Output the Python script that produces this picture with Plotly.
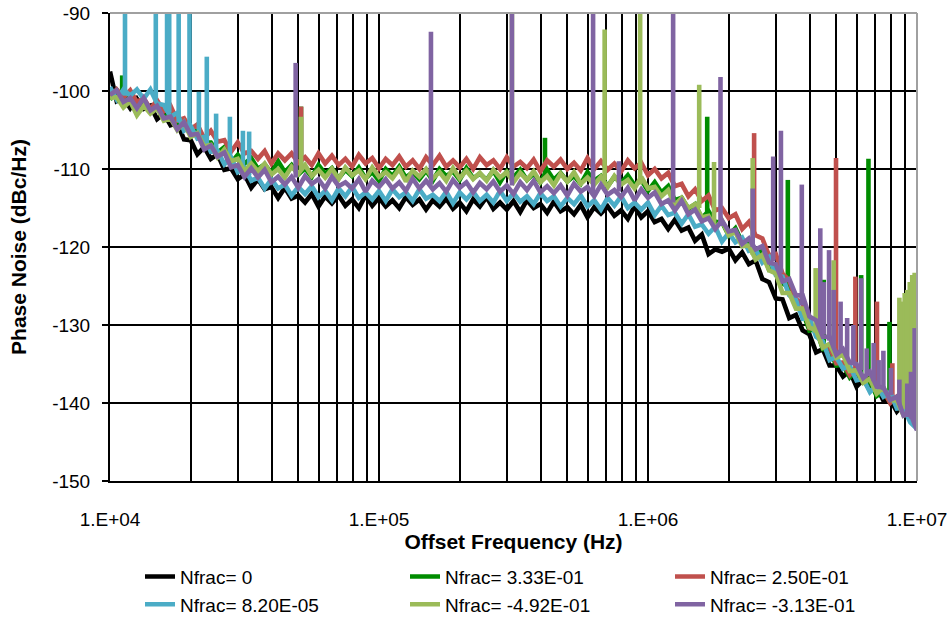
import plotly.graph_objects as go

# ---------------- data ----------------
freq = [1.000e4, 1.059e4, 1.122e4, 1.189e4, 1.259e4, 1.334e4, 1.413e4, 1.496e4, 1.585e4, 1.679e4,
        1.778e4, 1.884e4, 1.995e4, 2.113e4, 2.239e4, 2.371e4, 2.512e4, 2.661e4, 2.818e4, 2.985e4,
        3.162e4, 3.350e4, 3.548e4, 3.758e4, 3.981e4, 4.217e4, 4.467e4, 4.732e4, 5.012e4, 5.309e4,
        5.623e4, 5.957e4, 6.310e4, 6.683e4, 7.079e4, 7.499e4, 7.943e4, 8.414e4, 8.913e4, 9.441e4,
        1.000e5, 1.059e5, 1.122e5, 1.189e5, 1.259e5, 1.334e5, 1.413e5, 1.496e5, 1.585e5, 1.679e5,
        1.778e5, 1.884e5, 1.995e5, 2.113e5, 2.239e5, 2.371e5, 2.512e5, 2.661e5, 2.818e5, 2.985e5,
        3.162e5, 3.350e5, 3.548e5, 3.758e5, 3.981e5, 4.217e5, 4.467e5, 4.732e5, 5.012e5, 5.309e5,
        5.623e5, 5.957e5, 6.310e5, 6.683e5, 7.079e5, 7.499e5, 7.943e5, 8.414e5, 8.913e5, 9.441e5,
        1.000e6, 1.059e6, 1.122e6, 1.189e6, 1.259e6, 1.334e6, 1.413e6, 1.496e6, 1.585e6, 1.679e6,
        1.778e6, 1.884e6, 1.995e6, 2.113e6, 2.239e6, 2.371e6, 2.512e6, 2.661e6, 2.818e6, 2.985e6,
        3.162e6, 3.350e6, 3.548e6, 3.758e6, 3.981e6, 4.217e6, 4.467e6, 4.732e6, 5.012e6, 5.309e6,
        5.623e6, 5.957e6, 6.310e6, 6.683e6, 7.079e6, 7.499e6, 7.943e6, 8.414e6, 8.913e6, 9.441e6,
        1.000e7]

pn_0 = [-97.5, -101.3, -100.9, -102.2, -101.0, -102.3, -101.9, -103.6, -102.9, -104.4,
        -104.1, -106.2, -106.3, -108.1, -107.2, -108.7, -108.1, -110.1, -109.9, -111.3,
        -110.7, -112.4, -111.3, -112.6, -112.3, -113.7, -112.4, -113.8, -113.4, -114.3,
        -113.2, -114.8, -113.5, -114.4, -113.4, -114.7, -113.9, -115.0, -113.4, -114.7,
        -113.7, -114.8, -114.0, -115.0, -113.6, -114.6, -113.9, -115.2, -114.0, -114.8,
        -113.8, -115.1, -114.3, -115.4, -113.9, -114.8, -113.6, -115.1, -114.3, -115.2,
        -114.1, -115.5, -114.0, -115.0, -114.5, -115.6, -114.2, -115.4, -114.9, -115.8,
        -114.6, -116.2, -114.9, -115.7, -114.8, -116.0, -115.3, -116.4, -114.8, -116.2,
        -115.4, -116.8, -116.4, -117.7, -116.5, -117.9, -117.5, -119.2, -118.4, -120.9,
        -120.3, -120.6, -120.2, -121.7, -120.7, -122.2, -121.7, -124.1, -124.5, -126.6,
        -126.7, -129.1, -128.7, -130.7, -131.2, -133.5, -133.1, -135.2, -135.2, -136.6,
        -135.9, -137.9, -137.0, -138.3, -137.9, -139.7, -139.5, -141.1, -140.1, -142.2,
        -142.8]

pn_333 = [-101.1, -99.9, -101.1, -100.2, -101.8, -101.3, -102.5, -101.8, -103.5, -102.6,
          -104.2, -104.1, -105.7, -104.8, -106.6, -106.6, -107.9, -107.2, -109.2, -108.2,
          -109.3, -108.6, -110.0, -109.4, -110.5, -109.0, -110.4, -109.5, -110.7, -109.9,
          -111.0, -109.5, -110.6, -109.9, -111.2, -110.1, -110.9, -109.8, -111.2, -110.4,
          -111.5, -110.0, -110.9, -109.7, -111.1, -110.4, -111.3, -110.2, -111.5, -110.0,
          -110.9, -110.3, -111.4, -109.9, -111.2, -110.6, -111.4, -110.2, -111.7, -110.3,
          -111.1, -110.1, -111.4, -110.6, -111.7, -110.1, -111.4, -110.5, -111.6, -110.9,
          -111.9, -110.4, -111.5, -110.9, -112.2, -111.0, -111.8, -110.8, -112.1, -111.4,
          -112.8, -111.7, -113.0, -112.2, -114.0, -113.7, -115.1, -114.5, -116.3, -115.4,
          -116.8, -116.8, -118.5, -117.6, -119.4, -119.4, -120.9, -120.5, -122.9, -122.6,
          -124.7, -125.1, -127.7, -128.3, -130.7, -130.5, -133.1, -133.2, -135.2, -135.1,
          -136.7, -135.8, -137.3, -137.2, -139.1, -138.5, -139.9, -139.4, -141.4, -141.5,
          -142.8]

pn_250 = [-100.8, -99.8, -100.8, -99.9, -101.4, -100.9, -102.3, -101.2, -102.6, -101.9,
          -103.8, -103.5, -104.9, -104.3, -106.1, -105.1, -106.5, -106.3, -107.8, -106.6,
          -108.0, -107.7, -108.7, -107.7, -109.3, -108.0, -108.9, -108.0, -109.2, -108.5,
          -109.5, -108.0, -109.3, -108.3, -109.5, -108.7, -109.7, -108.2, -109.3, -108.6,
          -109.9, -108.7, -109.5, -108.4, -109.7, -108.9, -110.0, -108.5, -109.5, -108.3,
          -109.7, -108.9, -109.8, -108.7, -110.0, -108.5, -109.5, -108.9, -110.0, -108.5,
          -109.7, -109.1, -109.9, -108.8, -110.3, -108.9, -109.7, -108.8, -110.0, -109.2,
          -110.2, -108.6, -110.0, -109.0, -110.1, -109.3, -110.3, -108.9, -109.9, -109.2,
          -110.8, -110.0, -111.2, -110.5, -112.2, -111.9, -113.5, -112.6, -114.1, -113.4,
          -115.3, -115.0, -116.3, -115.8, -117.7, -116.8, -118.5, -118.9, -121.1, -120.9,
          -123.4, -124.3, -126.7, -127.2, -130.4, -130.5, -132.7, -132.8, -134.9, -134.8,
          -136.4, -135.4, -137.3, -136.9, -138.6, -138.4, -140.0, -139.2, -140.9, -141.1,
          -142.6]

pn_82 = [-99.5, -101.1, -99.8, -100.6, -99.8, -101.0, -99.8, -101.6, -101.8, -103.3,
         -102.8, -105.1, -104.5, -106.1, -105.9, -107.8, -107.7, -109.4, -108.5, -110.4,
         -109.9, -111.5, -111.1, -112.5, -111.3, -112.5, -112.0, -113.4, -112.3, -113.2,
         -112.2, -113.6, -112.8, -114.0, -112.5, -113.5, -112.3, -113.7, -113.0, -113.9,
         -112.8, -114.1, -112.6, -113.6, -113.0, -114.1, -112.6, -113.8, -113.3, -114.1,
         -112.9, -114.4, -113.0, -113.9, -112.9, -114.1, -113.3, -114.3, -112.8, -114.1,
         -113.1, -114.2, -113.5, -114.5, -113.1, -114.1, -113.5, -114.8, -113.7, -114.5,
         -113.4, -114.8, -114.0, -115.2, -113.7, -114.7, -113.5, -115.0, -114.3, -115.2,
         -114.3, -115.9, -114.7, -115.9, -115.6, -117.0, -115.8, -117.4, -117.1, -118.3,
         -117.4, -119.3, -118.2, -119.4, -118.8, -120.5, -120.3, -122.0, -121.3, -123.6,
         -123.8, -126.2, -126.8, -129.2, -129.1, -131.5, -132.1, -134.5, -134.1, -135.6,
         -135.2, -137.1, -136.9, -138.6, -137.7, -139.2, -138.6, -140.7, -140.6, -142.5,
         -143.3]

pn_m492 = [-100.9, -100.8, -102.1, -101.3, -103.1, -101.9, -102.9, -102.2, -103.8, -103.5,
           -105.0, -104.0, -105.9, -105.4, -107.1, -106.9, -108.5, -107.5, -109.0, -108.7,
           -110.3, -109.3, -110.3, -109.3, -110.7, -110.0, -111.1, -109.7, -110.6, -109.5,
           -110.9, -110.1, -111.1, -110.0, -111.3, -109.8, -110.8, -110.2, -111.3, -109.8,
           -111.0, -110.4, -111.2, -110.0, -111.6, -110.2, -111.0, -110.0, -111.2, -110.4,
           -111.5, -109.9, -111.2, -110.2, -111.3, -110.5, -111.5, -110.1, -111.1, -110.4,
           -111.7, -110.5, -111.4, -110.3, -111.7, -110.9, -112.1, -110.6, -111.6, -110.4,
           -111.9, -111.1, -112.0, -111.0, -112.3, -110.9, -112.0, -111.4, -112.5, -111.0,
           -112.5, -112.3, -113.5, -112.7, -114.6, -113.7, -115.0, -114.5, -116.2, -116.0,
           -117.6, -116.6, -118.5, -118.1, -119.9, -119.8, -121.6, -121.0, -123.0, -123.4,
           -125.9, -125.9, -127.9, -127.9, -130.3, -130.7, -132.9, -132.4, -134.2, -133.8,
           -135.9, -135.8, -137.4, -136.9, -138.8, -138.0, -139.6, -139.7, -141.6, -141.1,
           -143.2]

pn_m313 = [-100.5, -99.9, -101.4, -100.9, -102.2, -100.9, -102.5, -101.9, -103.5, -103.3,
           -104.9, -104.0, -105.6, -105.5, -107.5, -107.0, -108.4, -107.9, -109.8, -109.5,
           -111.0, -109.9, -111.1, -110.1, -111.7, -111.0, -112.0, -111.0, -112.4, -110.9,
           -111.9, -111.3, -112.5, -111.0, -112.2, -111.7, -112.5, -111.3, -112.9, -111.5,
           -112.3, -111.3, -112.5, -111.7, -112.8, -111.2, -112.5, -111.5, -112.6, -111.8,
           -112.9, -111.4, -112.4, -111.7, -113.0, -111.8, -112.6, -111.6, -112.9, -112.1,
           -113.2, -111.7, -112.7, -111.5, -113.0, -112.2, -113.1, -112.1, -113.4, -111.9,
           -112.9, -112.3, -113.5, -112.0, -113.3, -112.7, -113.6, -112.4, -114.0, -112.6,
           -113.7, -113.0, -114.5, -114.0, -115.3, -114.1, -115.8, -115.2, -116.7, -116.3,
           -117.7, -116.6, -118.0, -117.8, -119.6, -118.9, -120.3, -119.9, -122.0, -122.2,
           -124.4, -124.1, -126.2, -126.2, -128.9, -129.4, -131.5, -131.5, -133.8, -133.1,
           -134.8, -135.0, -136.8, -136.0, -137.9, -138.0, -139.6, -139.2, -141.6, -141.3,
           -143.5]

# spurs: frequency, local floor, peak (dBc/Hz)
spur_333_f = [1.11e4, 5.13e4, 4.14e5, 1.66e6, 3.31e6, 4.50e6, 6.20e6, 6.60e6, 7.90e6, 8.90e6]
spur_333_base = [-100.8, -110.4, -111.0, -116.0, -126.0, -133.2, -137.0, -137.6, -139.6, -140.8]
spur_333_peak = [-98.0, -102.0, -106.0, -103.3, -111.4, -124.2, -123.6, -108.7, -129.6, -128.0]

spur_250_f = [5.13e4, 2.48e6, 5.00e6, 5.90e6, 7.10e6, 8.10e6]
spur_250_base = [-108.6, -118.5, -134.6, -136.4, -138.3, -139.8]
spur_250_peak = [-102.0, -105.4, -108.6, -123.8, -127.0, -134.9]

spur_82_f = [1.137e4, 1.48e4, 1.63e4, 1.66e4, 1.80e4, 1.975e4, 2.14e4, 2.29e4, 2.48e4, 2.79e4, 3.12e4, 3.29e4]
spur_82_base = [-100.6, -101.0, -102.6, -102.8, -104.0, -105.0, -105.9, -106.8, -107.7, -108.8, -110.4, -110.8]
spur_82_peak = [-85.0, -85.0, -85.0, -85.0, -85.0, -85.0, -100.1, -95.6, -102.9, -103.3, -105.1, -105.2]

spur_m492_f = [5.13e4, 3.12e5, 6.90e5, 9.35e5, 1.55e6, 1.76e6, 2.45e6, 4.20e6, 4.90e6,
               8.60e6, 8.80e6, 9.00e6, 9.20e6, 9.40e6, 9.60e6, 9.80e6]
spur_m492_base = [-110.0, -110.5, -111.4, -112.0, -115.0, -117.0, -121.0, -131.0, -133.5,
                  -140.0, -140.4, -140.8, -141.2, -141.6, -142.0, -142.4]
spur_m492_peak = [-103.3, -85.0, -92.1, -85.0, -99.2, -109.1, -108.6, -122.7, -121.7,
                  -126.5, -127.0, -125.9, -125.5, -124.5, -123.6, -123.3]

spur_m313_f = [4.90e4, 1.56e5, 3.12e5, 6.25e5, 7.80e5, 1.24e6, 1.86e6, 2.45e6, 2.92e6, 3.12e6,
               3.73e6, 4.37e6, 4.50e6, 4.71e6, 4.90e6, 5.20e6, 5.50e6, 5.80e6, 6.20e6, 6.50e6,
               6.90e6, 7.20e6, 7.50e6, 8.00e6, 8.60e6, 9.20e6, 9.50e6, 9.80e6]
spur_m313_base = [-111.1, -112.0, -112.1, -113.0, -112.9, -114.3, -117.3, -120.0, -121.8, -123.3,
                  -127.5, -130.6, -131.2, -132.0, -132.8, -133.5, -134.2, -134.9, -135.8, -136.5,
                  -137.2, -137.8, -138.3, -139.0, -140.2, -141.4, -142.0, -142.6]
spur_m313_peak = [-96.4, -92.4, -85.0, -85.0, -109.0, -85.0, -98.2, -112.5, -108.4, -105.1,
                  -112.0, -117.6, -124.5, -120.4, -125.5, -127.0, -129.1, -130.0, -124.0, -133.0,
                  -132.3, -134.5, -133.3, -135.5, -137.0, -137.5, -136.0, -130.4]

series_names = ["Nfrac= 0", "Nfrac= 3.33E-01", "Nfrac= 2.50E-01",
                "Nfrac= 8.20E-05", "Nfrac= -4.92E-01", "Nfrac= -3.13E-01"]
series_colors = ["#000000", "#008C00", "#C0504D", "#4BACC6", "#9BBB59", "#8064A2"]

x_tickvals = [1e4, 2e4, 3e4, 4e4, 5e4, 6e4, 7e4, 8e4, 9e4,
              1e5, 2e5, 3e5, 4e5, 5e5, 6e5, 7e5, 8e5, 9e5,
              1e6, 2e6, 3e6, 4e6, 5e6, 6e6, 7e6, 8e6, 9e6, 1e7]
x_ticktext = ["1.E+04", "", "", "", "", "", "", "", "",
              "1.E+05", "", "", "", "", "", "", "", "",
              "1.E+06", "", "", "", "", "", "", "", "", "1.E+07"]
y_tickvals = [-150, -140, -130, -120, -110, -100, -90]
y_ticktext = ["-150", "-140", "-130", "-120", "-110", "-100", "-90"]

# ---------------- figure ----------------
curves = [
    (pn_0, [], [], []),
    (pn_333, spur_333_f, spur_333_base, spur_333_peak),
    (pn_250, spur_250_f, spur_250_base, spur_250_peak),
    (pn_82, spur_82_f, spur_82_base, spur_82_peak),
    (pn_m492, spur_m492_f, spur_m492_base, spur_m492_peak),
    (pn_m313, spur_m313_f, spur_m313_base, spur_m313_peak),
]

FONT = "Liberation Sans, Arial, sans-serif"
fig = go.Figure()
for (vals, sf, sb, sp), name, col in zip(curves, series_names, series_colors):
    xs = list(freq)
    ys = list(vals)
    for f, b, p in zip(sf, sb, sp):
        xs += [None, f, f]
        ys += [None, b, p]
    fig.add_trace(go.Scatter(x=xs, y=ys, mode="lines", name=name,
                             line=dict(color=col, width=4.6), connectgaps=False))

fig.update_layout(
    width=951, height=619,
    margin=dict(l=110, r=34, t=13, b=138),
    paper_bgcolor="white", plot_bgcolor="white",
    font=dict(family=FONT, size=19, color="black"),
    showlegend=True,
    legend=dict(orientation="h", xref="container", yref="container",
                x=140 / 951, y=0.099, xanchor="left", yanchor="top",
                entrywidth=220, font=dict(size=19, family=FONT), tracegroupgap=0,
                bgcolor="rgba(0,0,0,0)"),
    shapes=[
        dict(type="line", xref="paper", yref="paper", x0=0, x1=1, y0=1, y1=1,
             line=dict(color="#A0A0A0", width=2)),
        dict(type="line", xref="paper", yref="paper", x0=1, x1=1, y0=0, y1=1,
             line=dict(color="#A0A0A0", width=2)),
    ],
)
fig.update_xaxes(type="log", range=[4, 7], tickvals=x_tickvals, ticktext=x_ticktext,
                 showgrid=True, gridcolor="black", gridwidth=1.6, zeroline=False,
                 showline=True, linecolor="black", linewidth=2, ticks="",
                 automargin=False,
                 ticklabelstandoff=20, tickfont=dict(size=19, family=FONT),
                 title=dict(text="<b>Offset Frequency (Hz)</b>", font=dict(size=21, family=FONT),
                            standoff=6))
fig.update_yaxes(range=[-150, -90], tickvals=y_tickvals, ticktext=y_ticktext,
                 showgrid=True, gridcolor="black", gridwidth=1.6, zeroline=False,
                 showline=True, linecolor="black", linewidth=2,
                 ticks="outside", ticklen=6, tickwidth=1.6, tickcolor="black",
                 automargin=False,
                 ticklabelstandoff=8, tickfont=dict(size=19, family=FONT),
                 title=dict(text="<b>Phase Noise (dBc/Hz)</b>", font=dict(size=21, family=FONT),
                            standoff=20))

fig.write_html("out.html")
